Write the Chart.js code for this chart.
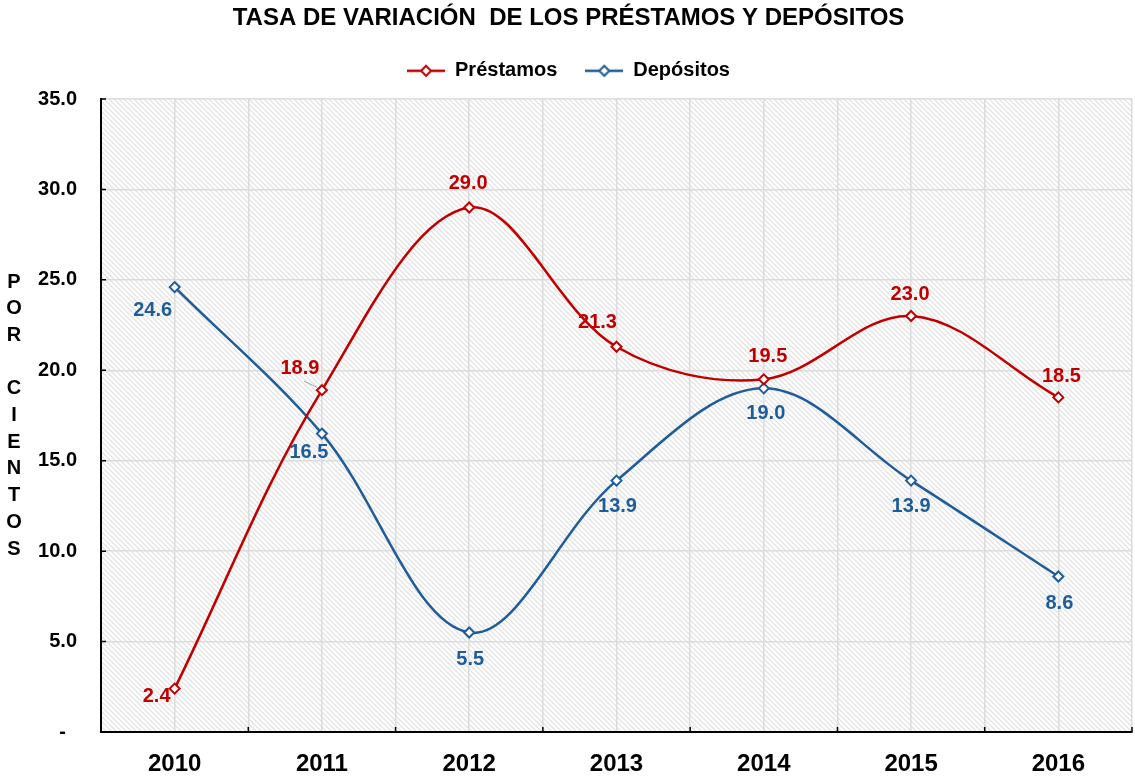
<!DOCTYPE html>
<html>
<head>
<meta charset="utf-8">
<script src="https://cdn.jsdelivr.net/npm/chart.js@4.4.1/dist/chart.umd.min.js"></script>
<style>
  html, body { margin: 0; padding: 0; background: #fff; overflow: hidden; }
  #wrap { width: 1139px; height: 779px; }
</style>
</head>
<body>
<div id="wrap"><canvas id="chart"></canvas></div>
<script>
// data
const years = ['2010', '2011', '2012', '2013', '2014', '2015', '2016'];
const prestamos = [2.4, 18.9, 29.0, 21.3, 19.5, 23.0, 18.5];
const depositos = [24.6, 16.5, 5.5, 13.9, 19.0, 13.9, 8.6];
const yTicks = [0, 5, 10, 15, 20, 25, 30, 35];

// where each value label sits relative to its point (px)
const prestamosLabelOffsets = [[-18, 8], [-22, -22], [-1, -24], [-19, -24], [4, -23], [-1, -22], [3, -21]];
const depositosLabelOffsets = [[-22, 23], [-13, 19], [1, 27], [1, 26], [2, 25], [0, 26], [1, 27]];

const RED = '#C00000';
const BLUE = '#1E5C9A';
const FONT = "'Liberation Sans', Arial, sans-serif";

// diagonal hatch for the plot area
const makeHatch = (ctx) => {
    const t = document.createElement('canvas');
    t.width = 5; t.height = 5;
    const c = t.getContext('2d');
    c.fillStyle = '#fff';
    c.fillRect(0, 0, 5, 5);
    c.strokeStyle = '#e3e3e3';
    c.lineWidth = 1.3;
    c.beginPath();
    c.moveTo(-1, -1); c.lineTo(6, 6);
    c.moveTo(-1, 4); c.lineTo(1, 6);
    c.moveTo(4, -1); c.lineTo(6, 1);
    c.stroke();
    return ctx.createPattern(t, 'repeat');
};

// legend marker: short line with a hollow diamond
const legendMarker = (color) => {
    const m = document.createElement('canvas');
    m.width = 38; m.height = 14;
    const c = m.getContext('2d');
    c.strokeStyle = color;
    c.lineWidth = 2.5;
    c.beginPath(); c.moveTo(0, 7); c.lineTo(38, 7); c.stroke();
    c.fillStyle = '#fff';
    c.lineWidth = 2;
    c.beginPath();
    c.moveTo(19, 2); c.lineTo(24, 7); c.lineTo(19, 12); c.lineTo(14, 7); c.closePath();
    c.fill(); c.stroke();
    return m;
};

const backgroundPlugin = {
    id: 'hatchBackground',
    beforeDraw(chart) {
        const {ctx, chartArea: a} = chart;
        ctx.save();
        ctx.fillStyle = '#fff';
        ctx.fillRect(0, 0, chart.width, chart.height);
        ctx.fillStyle = makeHatch(ctx);
        ctx.fillRect(a.left, a.top, a.right - a.left, a.bottom - a.top);
        ctx.restore();
    }
};

const overlayPlugin = {
    id: 'overlay',
    afterDatasetsDraw(chart) {
        const {ctx, chartArea: a} = chart;
        ctx.save();

        // inner tick marks
        ctx.strokeStyle = '#000';
        ctx.lineWidth = 1.5;
        ctx.beginPath();
        yTicks.forEach(v => {
            const y = chart.scales.y.getPixelForValue(v);
            ctx.moveTo(a.left, y); ctx.lineTo(a.left + 5, y);
        });
        const step = (a.right - a.left) / years.length;
        for (let i = 1; i <= years.length; i++) {
            const x = a.left + i * step;
            ctx.moveTo(x, a.bottom); ctx.lineTo(x, a.bottom - 5);
        }
        ctx.stroke();

        // leader line for the 2011 loan label
        const p = chart.getDatasetMeta(0).data[1];
        ctx.strokeStyle = '#a6a6a6';
        ctx.lineWidth = 1;
        ctx.beginPath();
        ctx.moveTo(p.x - 18, p.y - 9); ctx.lineTo(p.x - 5, p.y - 3);
        ctx.stroke();

        // value labels
        ctx.font = `bold 20px ${FONT}`;
        ctx.textAlign = 'center';
        ctx.textBaseline = 'middle';
        [[prestamos, prestamosLabelOffsets, RED], [depositos, depositosLabelOffsets, BLUE]].forEach(([vals, offs, color], di) => {
            ctx.fillStyle = color;
            chart.getDatasetMeta(di).data.forEach((pt, i) => {
                ctx.fillText(vals[i].toFixed(1), pt.x + offs[i][0], pt.y + offs[i][1]);
            });
        });

        // vertical axis title, one letter per line
        const letters = 'POR CIENTOS'.split('');
        const lh = 26.7;
        const cy = (a.top + a.bottom) / 2;
        ctx.fillStyle = '#000';
        ctx.font = `bold 20px ${FONT}`;
        letters.forEach((ch, i) => {
            if (ch !== ' ') ctx.fillText(ch, 14, cy + (i - (letters.length - 1) / 2) * lh);
        });
        ctx.restore();
    }
};

const gridColor = '#dcdcdc';

new Chart(document.getElementById('chart'), {
    type: 'line',
    data: {
        labels: years,
        datasets: [{
            label: 'Préstamos',
            data: prestamos,
            borderColor: RED,
            borderWidth: 2.5,
            pointStyle: 'rectRot',
            pointRadius: 5,
            pointBorderWidth: 2,
            pointBackgroundColor: '#fff',
            pointBorderColor: RED,
            tension: 0.35,
            clip: false
        }, {
            label: 'Depósitos',
            data: depositos,
            borderColor: BLUE,
            borderWidth: 2.5,
            pointStyle: 'rectRot',
            pointRadius: 5,
            pointBorderWidth: 2,
            pointBackgroundColor: '#fff',
            pointBorderColor: BLUE,
            tension: 0.35,
            clip: false
        }]
    },
    options: {
        responsive: true,
        maintainAspectRatio: false,
        animation: false,
        layout: { padding: { left: 0, right: 2, top: 0, bottom: 0 } },
        plugins: {
            title: {
                display: true,
                text: 'TASA DE VARIACIÓN  DE LOS PRÉSTAMOS Y DEPÓSITOS',
                color: '#000',
                font: { family: FONT, size: 24, weight: 'bold' },
                padding: { top: 4, bottom: 0 }
            },
            subtitle: {
                // spacer below the legend
                display: true,
                text: ' ',
                weight: 500,
                font: { size: 1 },
                padding: { top: 0, bottom: 7 }
            },
            legend: {
                position: 'top',
                labels: {
                    usePointStyle: true,
                    pointStyleWidth: 38,
                    padding: 28,
                    color: '#000',
                    font: { family: FONT, size: 20, weight: 'bold' },
                    generateLabels(chart) {
                        const items = Chart.defaults.plugins.legend.labels.generateLabels(chart);
                        items.forEach((it, i) => { it.pointStyle = legendMarker(i === 0 ? RED : BLUE); });
                        return items;
                    }
                }
            },
            tooltip: { enabled: false }
        },
        scales: {
            x: {
                type: 'category',
                offset: true,
                grid: { offset: true, color: gridColor, lineWidth: 1.5, drawTicks: false },
                border: { color: '#000', width: 2 },
                ticks: {
                    color: '#000',
                    padding: 18,
                    font: { family: FONT, size: 24, weight: 'bold' }
                },
                afterFit: (s) => { s.height = 47; s.paddingLeft = 0; s.paddingRight = 0; }
            },
            x2: {
                type: 'category',
                position: 'bottom',
                offset: true,
                grid: { offset: false, color: gridColor, lineWidth: 1.5, drawTicks: false },
                border: { display: false },
                ticks: { display: false },
                afterFit: (s) => { s.height = 0; s.paddingLeft = 0; s.paddingRight = 0; }
            },
            y: {
                min: 0,
                max: 35,
                afterBuildTicks: (s) => { s.ticks = yTicks.map(v => ({ value: v })); },
                grid: { color: gridColor, lineWidth: 1.5, drawTicks: false },
                border: { color: '#000', width: 2 },
                ticks: {
                    color: '#000',
                    padding: 24,
                    font: { family: FONT, size: 20, weight: 'bold' },
                    callback: (v) => v === 0 ? '-  ' : v.toFixed(1)
                },
                afterFit: (s) => { s.width = 101; }
            }
        }
    },
    plugins: [backgroundPlugin, overlayPlugin]
});
</script>
</body>
</html>
